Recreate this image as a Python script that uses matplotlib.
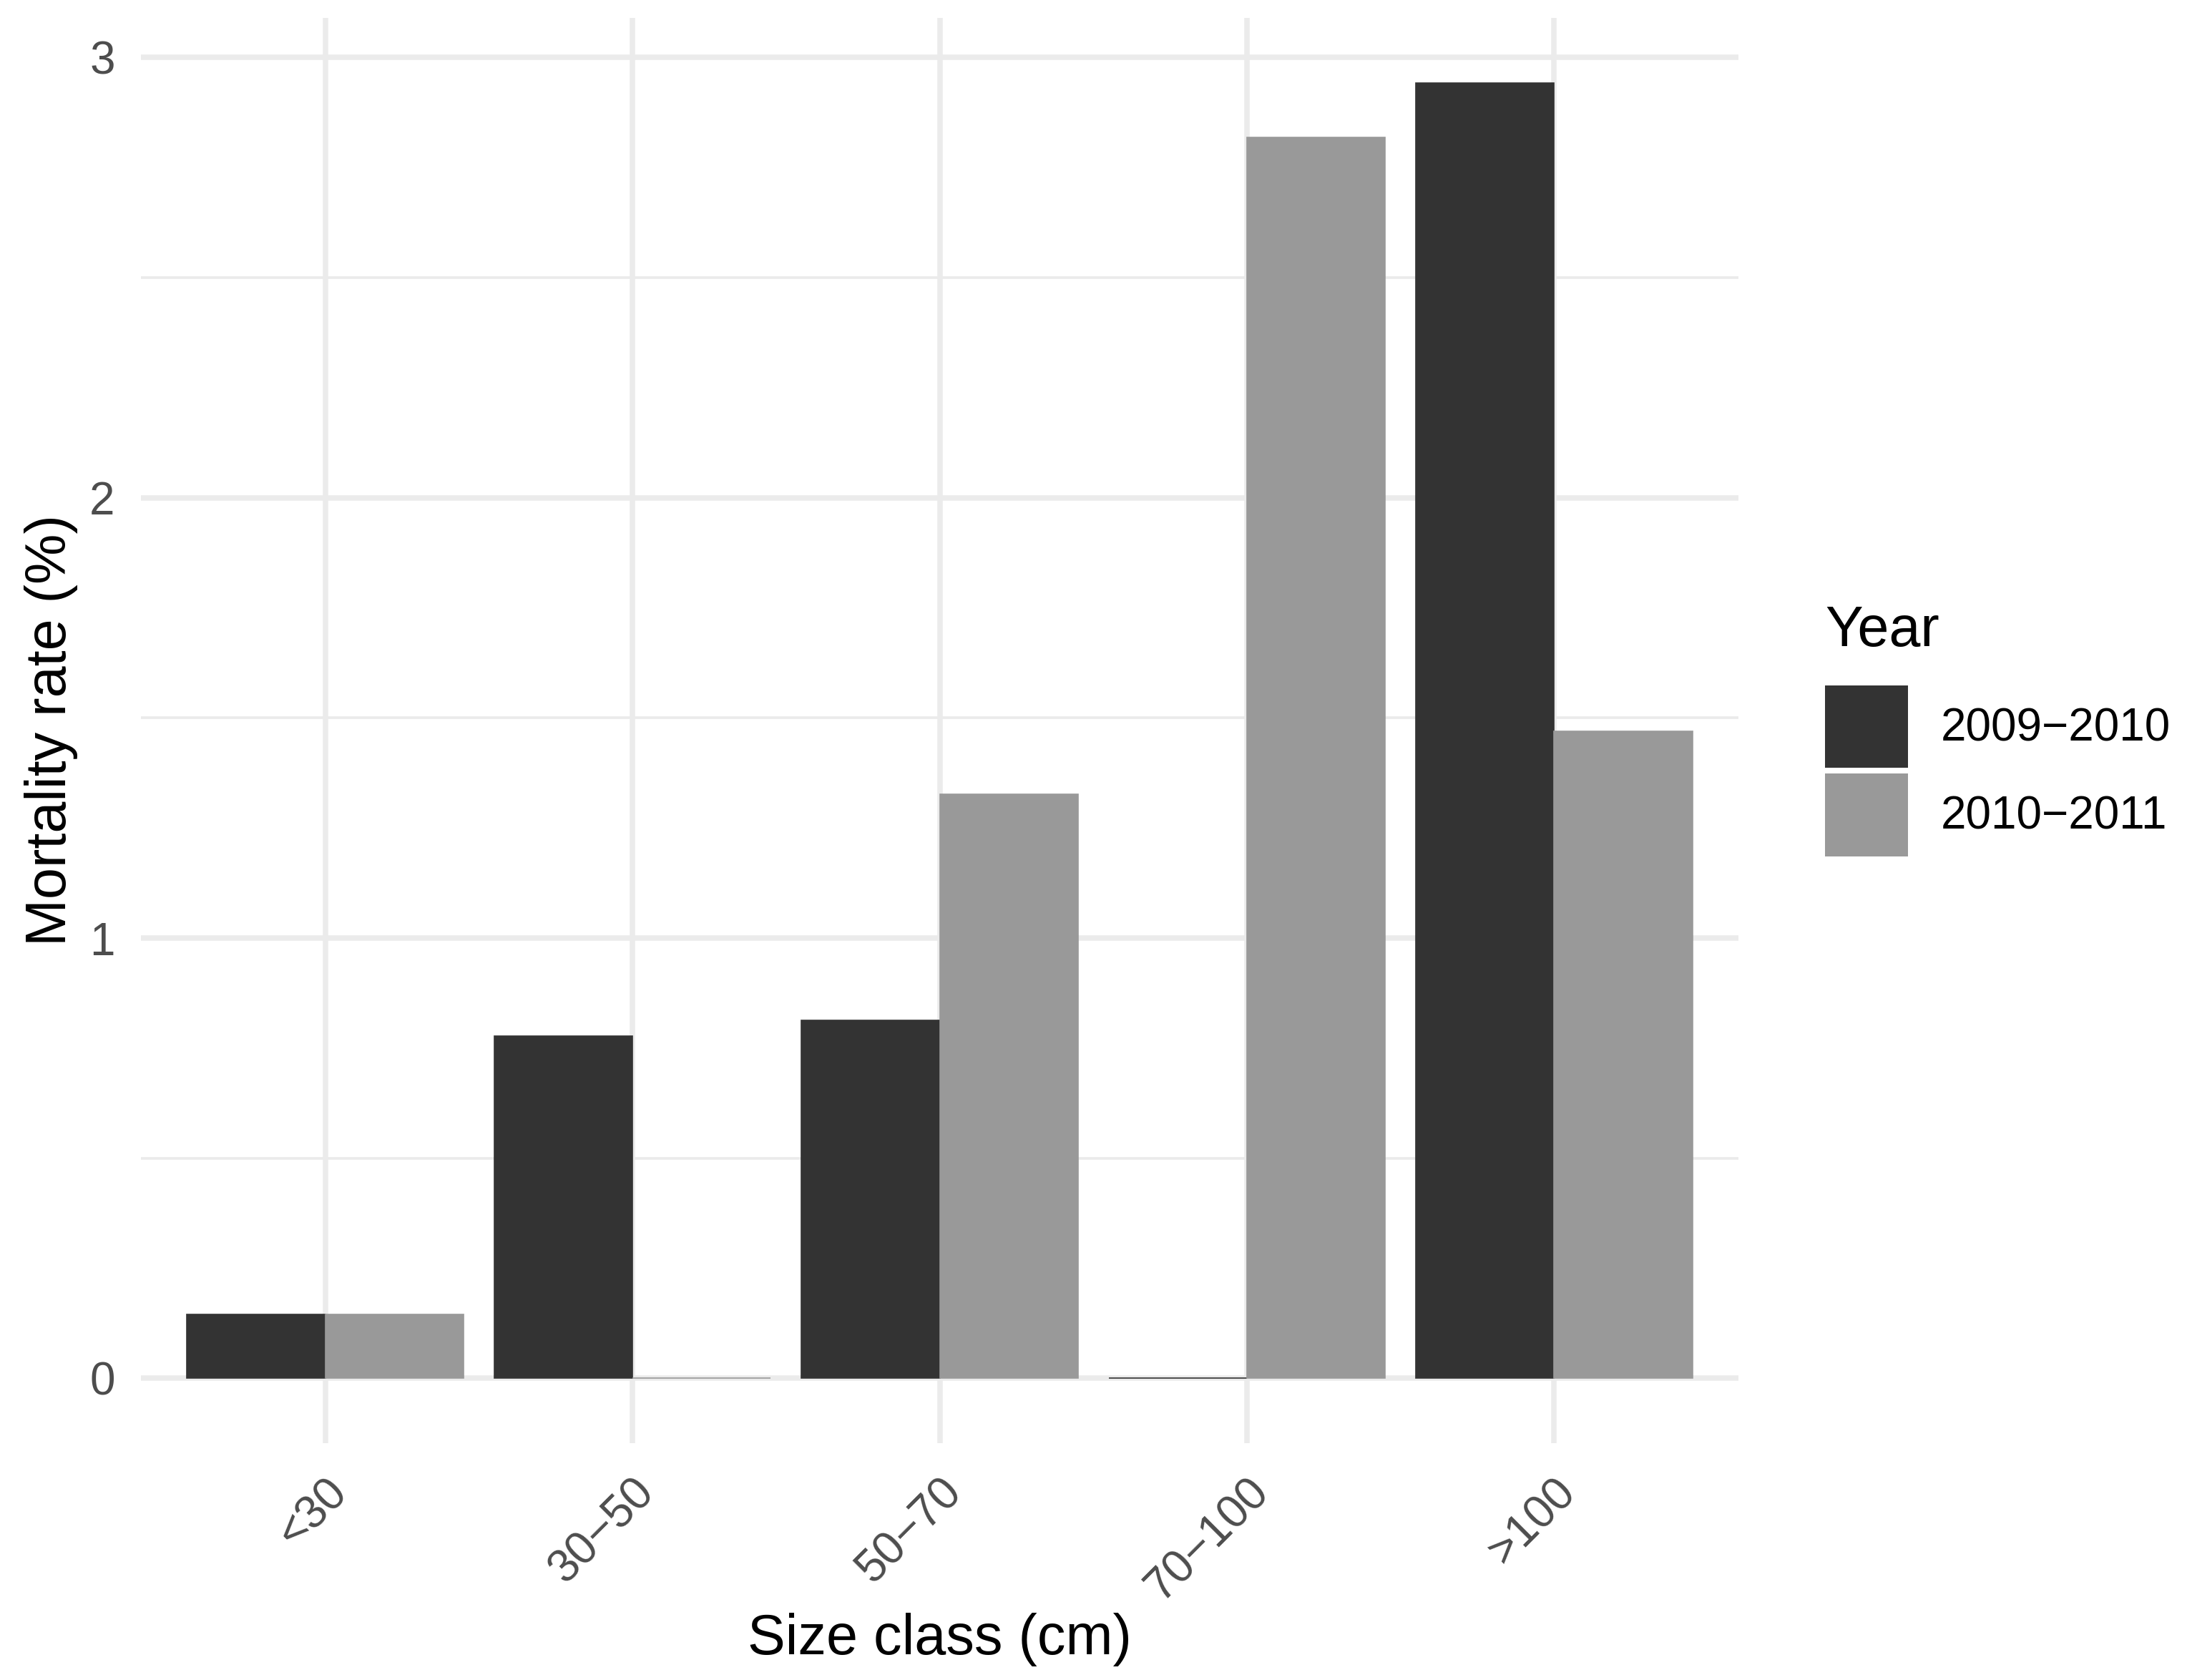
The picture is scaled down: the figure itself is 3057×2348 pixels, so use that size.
import numpy as np
import matplotlib
matplotlib.use("Agg")
import matplotlib.pyplot as plt
from matplotlib.patches import Patch
from matplotlib.ticker import MultipleLocator

plt.rcParams['font.family'] = ['Liberation Sans', 'DejaVu Sans']

# data
size_classes = ['<30', '30\u221250', '50\u221270', '70\u2212100', '>100']
years = ['2009\u22122010', '2010\u22122011']
rate_2009 = [0.146, 0.778, 0.813, 0.0, 2.943]
rate_2010 = [0.146, 0.0, 1.327, 2.819, 1.470]
bar_colors = ['#333333', '#999999']

fig = plt.figure(figsize=(3057 / 300, 2348 / 300), dpi=300)
ax = fig.add_axes([197 / 3057, 1 - 2017 / 2348, (2430 - 197) / 3057, (2017 - 25) / 2348])

x = np.arange(len(size_classes))
w = 0.45
for i, vals in enumerate([rate_2009, rate_2010]):
    ax.bar(x + (i - 0.5) * w, vals, width=w, color=bar_colors[i],
           edgecolor=bar_colors[i], linewidth=0.4, zorder=2)

# ggplot-like expansion
ymax = max(max(rate_2009), max(rate_2010))
ax.set_ylim(-0.05 * ymax, 1.05 * ymax)
ax.set_xlim(-0.6, len(size_classes) - 0.4)

ax.set_xticks(x)
ax.set_xticklabels(size_classes, rotation=45, ha='right', va='top',
                   rotation_mode='anchor')
ax.yaxis.set_major_locator(MultipleLocator(1))
ax.yaxis.set_minor_locator(MultipleLocator(0.5))

ax.tick_params(axis='both', which='both', length=0, labelsize=15.3,
               labelcolor='#4D4D4D')
ax.tick_params(axis='x', pad=9)
ax.tick_params(axis='y', pad=8.7)

ax.set_axisbelow(True)
ax.grid(True, which='major', axis='both', color='#EBEBEB', linewidth=1.8)
ax.grid(True, which='minor', axis='y', color='#EBEBEB', linewidth=0.9)
for s in ax.spines.values():
    s.set_visible(False)

ax.set_xlabel('Size class (cm)', fontsize=19, color='black')
ax.set_ylabel('Mortality rate (%)', fontsize=19, color='black')
ax.xaxis.set_label_coords(0.5, -0.119)
ax.yaxis.set_label_coords(-0.0395, 0.5)

handles = [Patch(facecolor=c, edgecolor='none') for c in bar_colors]
leg = fig.legend(handles, years, loc='center left',
                 bbox_to_anchor=(2551 / 3057, 1 - 1021 / 2348),
                 frameon=False, fontsize=15.3, title='Year', title_fontsize=19,
                 handlelength=1.82, handleheight=2.42, handletextpad=0.72,
                 labelspacing=0.12, borderpad=0, borderaxespad=0)
leg._legend_box.align = 'left'
leg._legend_box.sep = 9  # gap between title and keys

fig.savefig('out.png', dpi=300)
